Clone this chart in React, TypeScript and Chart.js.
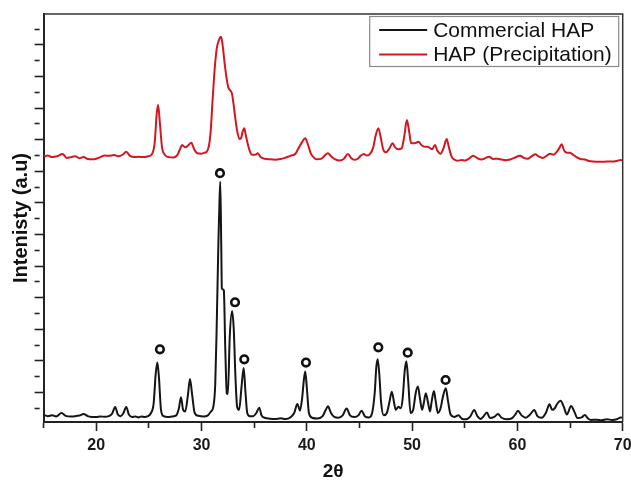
import React, { useEffect, useRef } from "react";
import { Chart, registerables } from "chart.js";

Chart.register(...registerables);

// 2θ (deg) , intensity (a.u.)
const commercialHAP: [number, number][] = [
  [15.0, -42], [15.4, -50], [15.8, -45], [16.2, -52], [16.7, -30], [17.1, -48], [17.6, -52], [18.0, -50],
  [18.4, -46], [18.8, -36], [19.2, -50], [19.6, -55], [20.0, -56], [20.4, -52], [20.8, -54], [21.2, -50],
  [21.5, -35], [21.8, 8], [22.05, -40], [22.3, -50], [22.55, -35], [22.85, 8], [23.1, -40], [23.4, -55],
  [23.7, -52], [24.0, -58], [24.3, -52], [24.6, -56], [24.9, -50], [25.2, -30], [25.45, 30], [25.65, 220],
  [25.8, 290], [25.95, 200], [26.15, -10], [26.4, -50], [26.8, -55], [27.2, -52], [27.6, -45], [27.85, 0],
  [28.05, 70], [28.25, -10], [28.45, -20], [28.7, 80], [28.9, 185], [29.1, 90], [29.35, -30], [29.7, -48],
  [30.2, -52], [30.6, -45], [30.9, -20], [31.12, 10], [31.3, 150], [31.44, 517], [31.6, 1044], [31.7, 1300],
  [31.78, 1434], [31.87, 1044], [31.93, 760], [32.05, 752], [32.12, 745], [32.25, 390], [32.4, 95], [32.5, 90],
  [32.68, 453], [32.9, 615], [33.06, 500], [33.22, 200], [33.38, 10], [33.57, -10], [33.8, 137], [34.0, 255],
  [34.18, 95], [34.34, -30], [34.6, -50], [34.9, -50], [35.2, -30], [35.48, 4], [35.7, -45], [36.0, -60],
  [36.5, -66], [37.0, -68], [37.5, -64], [38.0, -68], [38.4, -60], [38.8, -30], [39.1, 27], [39.35, -15],
  [39.55, 60], [39.72, 180], [39.85, 232], [40.0, 130], [40.2, -30], [40.5, -60], [41.0, -65], [41.5, -50],
  [41.8, -10], [42.0, 12], [42.3, -30], [42.6, -55], [43.0, -60], [43.4, -45], [43.78, -2], [44.1, -45],
  [44.5, -55], [44.9, -45], [45.2, -15], [45.5, -50], [45.9, -58], [46.2, -30], [46.45, 100], [46.6, 260],
  [46.73, 310], [46.88, 220], [47.05, 40], [47.3, -45], [47.6, -30], [47.85, 40], [48.07, 105], [48.3, 30],
  [48.45, -10], [48.7, 10], [48.9, 0], [49.1, 60], [49.3, 240], [49.45, 298], [49.62, 180], [49.85, -30],
  [50.1, -10], [50.35, 100], [50.55, 137], [50.75, 60], [50.95, -10], [51.1, 30], [51.3, 95], [51.5, 40],
  [51.7, -20], [51.85, 40], [52.07, 110], [52.25, 40], [52.45, -30], [52.7, 0], [52.95, 80], [53.2, 127],
  [53.4, 50], [53.65, -40], [54.0, -55], [54.4, -45], [54.7, -65], [55.1, -70], [55.5, -55], [55.9, -11],
  [56.2, -50], [56.5, -68], [56.8, -50], [57.1, -27], [57.4, -62], [57.8, -55], [58.15, -37], [58.5, -60],
  [59.0, -70], [59.5, -62], [59.8, -40], [60.05, -15], [60.4, -45], [60.8, -60], [61.2, -40], [61.6, -11],
  [61.9, -50], [62.3, -60], [62.7, -30], [63.05, 25], [63.3, -10], [63.55, 0], [63.8, 30], [64.1, 48],
  [64.4, 10], [64.7, -40], [65.1, 15], [65.4, -20], [65.7, -62], [66.1, -58], [66.4, -42], [66.7, -65],
  [67.0, -74], [67.5, -72], [68.0, -76], [68.5, -70], [69.0, -74], [69.5, -68], [69.8, -58], [70.0, -60],
];

const precipitationHAP: [number, number][] = [
  [15.0, 1593], [15.4, 1600], [15.8, 1590], [16.3, 1595], [16.8, 1610], [17.2, 1585], [17.6, 1590], [18.0, 1595],
  [18.4, 1583], [18.8, 1590], [19.2, 1578], [19.6, 1576], [20.0, 1580], [20.4, 1590], [20.8, 1600], [21.2, 1598],
  [21.7, 1603], [22.1, 1595], [22.5, 1605], [22.85, 1624], [23.2, 1598], [23.6, 1590], [24.0, 1592], [24.5, 1590],
  [24.9, 1595], [25.3, 1610], [25.55, 1680], [25.75, 1870], [25.88, 1920], [26.05, 1800], [26.25, 1650], [26.5, 1605],
  [26.9, 1590], [27.3, 1588], [27.7, 1603], [27.95, 1640], [28.15, 1667], [28.45, 1652], [28.75, 1665], [29.03, 1681],
  [29.3, 1640], [29.6, 1614], [30.0, 1612], [30.3, 1618], [30.5, 1625], [30.7, 1660], [30.85, 1740], [31.05, 1950],
  [31.25, 2150], [31.45, 2280], [31.65, 2330], [31.85, 2352], [32.0, 2300], [32.2, 2180], [32.4, 2080], [32.55, 2030],
  [32.75, 2010], [32.9, 1990], [33.05, 1920], [33.2, 1840], [33.4, 1750], [33.6, 1705], [33.75, 1710], [33.9, 1750],
  [34.06, 1772], [34.2, 1730], [34.4, 1670], [34.6, 1625], [34.8, 1605], [35.1, 1605], [35.35, 1614], [35.6, 1590],
  [36.0, 1580], [36.5, 1576], [37.0, 1574], [37.5, 1578], [37.9, 1585], [38.2, 1592], [38.5, 1600], [38.9, 1610],
  [39.2, 1645], [39.5, 1680], [39.85, 1709], [40.1, 1670], [40.4, 1610], [40.7, 1585], [41.0, 1576], [41.4, 1580],
  [41.7, 1600], [42.0, 1615], [42.3, 1595], [42.7, 1575], [43.1, 1568], [43.5, 1578], [43.9, 1610], [44.2, 1585],
  [44.5, 1573], [44.8, 1578], [45.1, 1598], [45.4, 1610], [45.7, 1600], [46.0, 1610], [46.3, 1650], [46.55, 1730],
  [46.8, 1772], [47.0, 1720], [47.25, 1640], [47.5, 1620], [47.8, 1640], [48.15, 1677], [48.4, 1650], [48.7, 1640],
  [49.0, 1645], [49.25, 1720], [49.5, 1825], [49.7, 1760], [49.9, 1680], [50.1, 1677], [50.35, 1680], [50.6, 1688],
  [50.9, 1665], [51.2, 1656], [51.5, 1656], [51.9, 1640], [52.17, 1667], [52.4, 1630], [52.7, 1612], [53.0, 1650],
  [53.28, 1705], [53.5, 1650], [53.75, 1593], [54.0, 1575], [54.3, 1567], [54.7, 1572], [55.0, 1568], [55.4, 1580],
  [55.8, 1599], [56.2, 1583], [56.6, 1575], [57.0, 1585], [57.3, 1592], [57.7, 1578], [58.1, 1580], [58.5, 1575],
  [58.9, 1570], [59.3, 1575], [59.7, 1585], [60.25, 1599], [60.6, 1585], [61.0, 1580], [61.4, 1598], [61.7, 1608],
  [62.0, 1595], [62.4, 1585], [62.8, 1600], [63.1, 1612], [63.4, 1605], [63.7, 1620], [64.0, 1650], [64.2, 1671],
  [64.45, 1630], [64.7, 1618], [65.0, 1617], [65.3, 1605], [65.6, 1590], [66.0, 1578], [66.4, 1575], [66.8, 1565],
  [67.2, 1562], [67.6, 1561], [68.0, 1560], [68.5, 1562], [69.0, 1562], [69.5, 1567], [69.8, 1572], [70.0, 1568],
];

// "o" peak markers above commercial HAP reflections
const peakMarkers: [number, number][] = [
  [26.05, 373], [31.75, 1488], [33.18, 671], [34.06, 310], [39.92, 289], [46.79, 386], [49.58, 352], [53.18, 179],
];

const xTickValues = [15, 20, 25, 30, 35, 40, 45, 50, 55, 60, 65, 70];
const yTickValues = [
  0, 100, 200, 300, 400, 500, 600, 700, 800, 900, 1000, 1100, 1200,
  1300, 1400, 1500, 1600, 1700, 1800, 1900, 2000, 2100, 2200, 2300, 2400,
];
const seriesNames = ["Commercial HAP", "HAP (Precipitation)"];
const seriesColors = ["#151515", "#d4171f"];
const X_MIN = 15;
const X_MAX = 70;
const Y_MIN = -87;
const Y_MAX = 2496;

const FONT = "'Liberation Sans', Arial, Helvetica, sans-serif";

const framePlugin = {
  id: "frameBox",
  afterDatasetsDraw(chart: any) {
    const { ctx, chartArea } = chart;
    ctx.save();
    ctx.strokeStyle = "#333";
    ctx.lineWidth = 1.5;
    ctx.beginPath();
    ctx.moveTo(chartArea.left, chartArea.top);
    ctx.lineTo(chartArea.right, chartArea.top);
    ctx.lineTo(chartArea.right, chartArea.bottom);
    ctx.stroke();
    ctx.restore();
  },
};

const legendPlugin = {
  id: "boxLegend",
  afterDraw(chart: any) {
    const { ctx, chartArea } = chart;
    const boxW = 249;
    const boxH = 50;
    const x0 = chartArea.right - 4.5 - boxW;
    const y0 = chartArea.top + 2;
    ctx.save();
    ctx.fillStyle = "#ffffff";
    ctx.fillRect(x0, y0, boxW, boxH);
    ctx.strokeStyle = "#8a8a8a";
    ctx.lineWidth = 1.2;
    ctx.strokeRect(x0 + 0.5, y0 + 0.5, boxW, boxH);
    const rows = [14, 38.5];
    seriesNames.forEach((name, i) => {
      const y = y0 + rows[i];
      ctx.strokeStyle = seriesColors[i];
      ctx.lineWidth = 2;
      ctx.beginPath();
      ctx.moveTo(x0 + 10, y);
      ctx.lineTo(x0 + 58, y);
      ctx.stroke();
      ctx.fillStyle = "#111";
      ctx.font = `21px ${FONT}`;
      ctx.textBaseline = "middle";
      ctx.textAlign = "left";
      ctx.fillText(name, x0 + 64, y + 1);
    });
    ctx.restore();
  },
};

export default function App() {
  const canvasRef = useRef<HTMLCanvasElement | null>(null);

  useEffect(() => {
    const canvas = canvasRef.current;
    if (!canvas) return;
    const chart = new Chart(canvas, {
      type: "line",
      data: {
        datasets: [
          {
            label: seriesNames[0],
            data: commercialHAP.map(([x, y]) => ({ x, y })),
            borderColor: seriesColors[0],
            borderWidth: 2,
            pointRadius: 0,
            cubicInterpolationMode: "monotone",
            fill: false,
          },
          {
            label: seriesNames[1],
            data: precipitationHAP.map(([x, y]) => ({ x, y })),
            borderColor: seriesColors[1],
            borderWidth: 2,
            pointRadius: 0,
            cubicInterpolationMode: "monotone",
            fill: false,
          },
          {
            type: "scatter",
            label: "peaks",
            data: peakMarkers.map(([x, y]) => ({ x, y })),
            showLine: false,
            pointRadius: 3.8,
            pointBorderWidth: 2.6,
            pointBorderColor: "#111",
            pointBackgroundColor: "#ffffff",
          } as any,
        ],
      },
      options: {
        responsive: false,
        animation: false,
        events: [],
        layout: { padding: { left: 0, right: 8.3, top: 14, bottom: 0 } },
        plugins: {
          legend: { display: false },
          tooltip: { enabled: false },
        },
        scales: {
          x: {
            type: "linear",
            min: X_MIN,
            max: X_MAX,
            afterFit: (s: any) => {
              s.height = 62;
              s.paddingLeft = 0;
              s.paddingRight = 0;
            },
            afterBuildTicks: (s: any) => {
              s.ticks = xTickValues.map((v) => ({ value: v }));
            },
            ticks: {
              autoSkip: false,
              maxRotation: 0,
              padding: 5,
              color: "#1a1a1a",
              font: { family: FONT, size: 16, weight: "bold" },
              callback: (v: any) => (Number(v) % 10 === 0 ? String(v) : ""),
            },
            grid: {
              drawOnChartArea: false,
              drawTicks: true,
              tickLength: 9,
              tickWidth: 1.6,
              tickColor: "#222",
              tickBorderDash: (ctx: any) =>
                ctx.tick && ctx.tick.value % 10 !== 0 ? [5, 30] : [],
            } as any,
            border: { display: true, color: "#222", width: 2 },
            title: {
              display: true,
              text: "2θ",
              color: "#111",
              font: { family: FONT, size: 19, weight: "bold" },
              padding: { top: 0, bottom: 1 },
            },
          },
          y: {
            type: "linear",
            min: Y_MIN,
            max: Y_MAX,
            afterFit: (s: any) => {
              s.width = 43.6;
              s.paddingTop = 0;
              s.paddingBottom = 0;
            },
            afterBuildTicks: (s: any) => {
              s.ticks = yTickValues.map((v) => ({ value: v }));
            },
            ticks: { display: false },
            grid: {
              drawOnChartArea: false,
              drawTicks: true,
              tickLength: 9,
              tickWidth: 1.6,
              tickColor: "#222",
              tickBorderDash: (ctx: any) =>
                ctx.tick && Math.round(ctx.tick.value / 100) % 2 === 1 ? [] : [5, 30],
            } as any,
            border: { display: true, color: "#222", width: 2 },
            title: {
              display: true,
              text: "Intenisty (a.u)",
              color: "#111",
              font: { family: FONT, size: 20, weight: "bold" },
              padding: { top: 9, bottom: 0 },
            },
          },
        },
      },
      plugins: [framePlugin, legendPlugin],
    });
    return () => chart.destroy();
  }, []);

  return (
    <div style={{ position: "absolute", left: 0, top: 0, width: 631, height: 484, background: "#fff" }}>
      <canvas ref={canvasRef} width={631} height={484} style={{ display: "block" }} />
    </div>
  );
}
